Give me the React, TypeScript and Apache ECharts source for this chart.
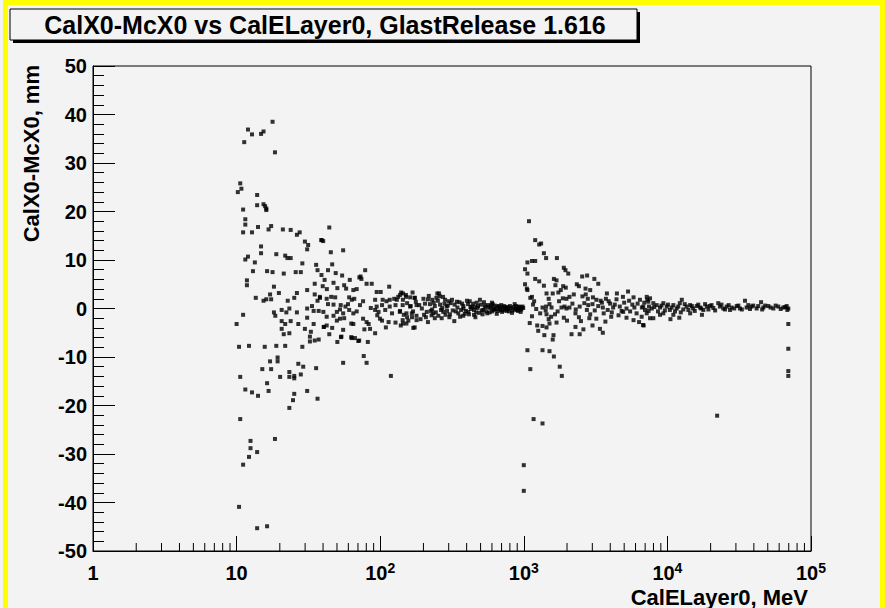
import { useEffect, useRef } from "react";
import * as echarts from "echarts";

const titleText = "CalX0-McX0 vs CalELayer0, GlastRelease 1.616";
const xAxisTitle = "CalELayer0, MeV";
const yAxisTitle = "CalX0-McX0, mm";
const xRange = [1, 100000];
const yRange = [-50, 50];
const yStep = 10;

// [CalELayer0 (MeV), CalX0-McX0 (mm)]
const lowEnergy: number[][] = [
  [17.8,38.5],[12.0,36.9],[12.8,35.9],[14.8,36.0],[15.4,36.5],[11.3,34.3],[18.5,32.2],[10.6,25.8],[10.8,24.7],[10.2,24.0],[13.9,23.4],[13.9,21.3],[15.4,21.5],[15.8,21.1],[16.1,20.6],[11.1,20.4],
  [16.1,20.3],[11.5,18.4],[11.5,17.3],[11.1,15.7],[12.8,15.7],[14.1,16.8],[16.7,16.3],[17.4,17.0],[21.0,16.3],[23.8,16.2],[26.3,15.2],[27.5,15.7],[29.9,13.8],[31.5,13.1],[31.0,12.2],[39.0,14.1],[14.8,12.8],[14.8,11.4],[12.0,10.7],[11.5,10.1],[13.4,9.5],[18.9,11.2],[21.8,10.9],[22.6,10.4],[23.8,10.4],[28.7,9.3],[35.8,9.0],[13.0,7.7],[16.3,7.7],[17.8,7.5],[21.3,7.2],[25.8,7.5],[28.0,7.5],[36.6,7.9],[39.0,6.9],[11.8,5.8],[11.8,4.8],[18.2,4.5],[19.7,3.2],[17.1,2.9],[16.1,1.9],[15.4,1.6],[17.4,1.9],[13.6,2.2],[22.7,1.6],[25.2,2.2],[26.3,3.2],[31.0,3.8],[35.0,5.1],[35.0,2.9],[36.6,1.6],[38.1,2.2],
  [11.1,-1.3],[10.0,-3.2],[18.2,-0.8],[18.6,-1.5],[20.6,-0.3],[22.2,-0.8],[23.3,0.0],[26.3,-0.8],[31.0,0.0],[33.5,0.5],[34.4,-0.5],[37.3,-0.5],[31.0,-1.9],[20.6,-2.6],[21.8,-3.2],[23.8,-2.6],[26.9,-3.2],[34.4,-3.2],[40.5,-3.8],[20.6,-4.2],[29.9,-4.2],[21.3,-5.3],[23.3,-5.1],[32.9,-4.8],[32.4,-5.8],[32.4,-6.8],[35.0,-6.6],[37.3,-6.4],[28.7,-7.9],[10.4,-7.9],[12.2,-7.7],[15.7,-7.9],[18.9,-7.7],[21.8,-7.7],[19.3,-10.1],
  [17.1,-10.9],[19.3,-10.9],[26.9,-11.4],[29.1,-12.0],[35.8,-12.3],[15.1,-12.5],[17.4,-12.5],[10.6,-14.1],[20.1,-14.1],[23.3,-13.1],[23.3,-14.1],[25.2,-13.9],[25.2,-14.4],[28.0,-13.6],[16.3,-15.4],[11.5,-16.7],[12.8,-17.3],[14.1,-18.0],[16.7,-17.0],[25.2,-17.6],[31.0,-17.0],[24.7,-18.9],[36.6,-18.6],[23.3,-20.5],[10.6,-22.8],[18.5,-26.9],[12.5,-27.3],[12.5,-28.8],[13.9,-29.6],[12.2,-30.6],[11.1,-32.2],[10.4,-40.9],[13.9,-45.3],[16.3,-44.9],
];

const midEnergy: number[][] = [
  [44.2,16.7],[39.0,14.1],[40.1,13.9],[45.3,11.6],[55.2,12.0],[46.3,9.1],[43.3,7.9],[49.0,7.3],[54.3,6.8],[78.6,7.9],[73.0,6.6],[74.0,6.1],[71.6,6.4],[61.4,5.9],[41.0,5.9],[47.3,5.3],[80.4,5.1],[87.3,5.1],[115.5,4.5],[39.8,4.6],[42.5,4.0],[50.3,4.2],[56.1,4.8],[57.9,4.1],[65.0,3.8],[68.6,4.0],[94.5,3.4],[100.8,3.4],[143.9,3.1],[137.5,2.8],[151.5,2.4],[161.6,2.3],[173.8,2.2],[38.0,2.4],[42.4,2.0],[45.6,2.4],[48.6,2.3],[60.8,2.3],[63.4,1.8],[66.0,2.0],[76.0,1.5],[92.2,1.8],[104,1.8],[110.6,1.5],[116.5,1.8],[125.2,2.0],[133.5,2.4],[130.6,1.8],
  [43.3,0.9],[47.3,0.8],[53.1,0.7],[57.3,0.4],[59.7,0.9],[72.3,0.7],[86.0,0.1],[94.5,0.4],[103,0.7],[116.5,0.4],[127.8,0.7],[143.4,0.7],[161.6,0.4],[179.2,0.7],[40.2,-0.7],[52.5,-0.2],[49.9,-0.7],[55.2,-1.0],[60.8,-0.3],[65.0,-1.0],[68.6,-0.6],[92.2,-0.3],[97.4,-0.7],[108.4,-0.3],[120.9,-1.0],[137.5,-0.5],[152.3,-1.0],[169.3,-0.6],
  [42.4,-1.7],[47.3,-1.5],[52.5,-2.1],[49.9,-2.5],[56.1,-2.0],[76.0,-2.1],[80.4,-2.8],[95.4,-1.4],[99.6,-2.1],[143.4,-2.4],[152.3,-3.1],[166.6,-1.8],[179.2,-2.4],[40.5,-3.8],[42.4,-3.5],[46.3,-4.0],[62.9,-3.1],[65.0,-3.2],[83.1,-3.2],[85.0,-4.2],[103,-2.5],[114.4,-2.8],[127.8,-2.9],[139.1,-3.5],[173.8,-3.9],
  [44.2,-5.3],[55.2,-4.4],[77.6,-4.3],[92.2,-5.1],[53.7,-5.8],[62.9,-5.9],[66.7,-6.1],[71.4,-6.6],[50.3,-6.9],[82.0,-6.9],[109.5,-3.9],[76.8,-9.8],[55.2,-11.2],[80.4,-11.2],[118.7,-13.9],[63.3,-6.1],[70.4,-6.7],[53.3,-5.9],
];

const hundredsBand: number[][] = [
  [140,3.3],[151,2.8],[168,3.3],[174,2.2],[144,1.8],[154,1.1],[163,0.5],[177,1.4],[187,0.7],[195,0.0],[137,-0.7],[146,-1.3],[154,-1.8],[166,-1.0],[179,-1.5],[191,-2.2],[202,-1.3],[211,-0.7],[144,-3.1],[170,-4.0],[157,-2.5],[215,1.9],[230,1.8],[246,2.2],[257,3.1],[274,2.4],[283,1.8],
  [222,0.9],[240,0.5],[261,0.8],[290,0.4],[310,1.1],[330,0.8],[356,1.3],[379,0.5],[409,0.9],[436,0.4],[470,1.2],[495,1.8],[528,1.3],[563,0.7],[607,0.9],[654,0.4],[697,0.7],[752,0.2],[801,0.5],[864,0.9],[921,0.4],[971,0.2],
  [234,-1.0],[254,-1.5],[275,-0.7],[303,-1.8],[328,-2.6],[350,-1.0],[379,-1.5],[410,-0.7],[450,-1.3],[490,-0.9],[522,-0.3],[557,-1.0],[601,-0.6],[648,-1.1],[705,-0.7],[760,-0.5],[828,-0.9],[893,-0.3],[951,-0.7],
  [230,-0.2],[270,0.1],[320,-0.4],[380,0.0],[450,-0.3],[540,0.2],[640,-0.1],[760,-0.2],[900,0.0],[240,-2.0],[250,3.1],
  [205,1.0],[225,-0.5],[265,-0.3],[295,0.6],[345,0.2],[395,-0.5],[425,0.3],[480,0.5],[510,-0.4],[585,0.1],[620,-0.3],[680,0.0],[730,0.5],[780,-0.1],[850,0.3],[940,-0.2],[990,0.1],[215,-2.8],[260,2.5],[300,1.5],[285,-1.3],[360,-1.7],[420,1.5],[460,-1.8],[600,1.2],
  [200,2.0],[208,-1.8],[218,2.6],[228,-1.4],[236,1.2],[244,-0.8],[252,1.6],[268,-2.0],[280,1.0],[292,-0.5],[306,-1.2],[316,1.8],[336,-0.6],[342,1.4],[366,-0.3],[372,1.0],[388,-1.1],[402,1.6],[415,-1.2],[430,-0.1],[444,1.0],[458,0.3],[466,-0.8],[476,0.1],[502,0.8],[516,-1.2],[534,0.6],[548,-0.6],[570,0.3],[578,-0.8],[592,0.6],[614,0.0],[628,0.6],[660,-0.5],[670,0.5],[690,-0.3],[712,0.3],[722,-0.4],[740,0.0],[770,0.3],[790,-0.6],[812,0.1],[838,-0.4],[870,-0.1],[880,0.5],[910,-0.5],[930,0.3],[960,-0.2],[980,0.4],
];

const thousands: number[][] = [
  [1087,18.0],[1200,14.1],[1280,13.2],[1320,13.4],[1380,11.4],[1430,10.4],[1700,10.4],[1060,9.5],[1140,9.8],[1200,9.8],[1020,8.1],[1060,7.2],[1900,8.4],[1950,7.9],[2040,7.2],[2550,6.6],[2760,6.8],[3100,6.1],[3300,5.1],[1200,6.1],[1280,5.6],[1620,6.1],[1690,5.8],[1660,4.8],[1020,5.0],[1050,4.1],[1060,3.8],[1380,4.7],[1880,4.6],[1960,4.3],[2340,5.0],[2420,4.6],[2690,4.1],[2900,3.8],[3790,3.1],[4450,3.1],[5320,3.5],[1590,3.1],[1740,3.3],[1810,3.8],[2230,2.9],[1110,2.2],[1140,2.4],[1440,3.1],[1490,2.0],[1870,2.1],[1980,2.0],[2080,2.4],[2560,2.5],[2790,2.0],[3030,2.3],[3200,1.8],[3430,1.6],[3730,2.0],[3990,1.0],[4420,1.9],[4900,2.4],[5410,1.6],[5810,2.3],[6440,1.8],[7240,1.8],
  [1160,0.8],[1220,-0.1],[1350,0.2],[1430,0.4],[1510,0.9],[1830,0.2],[1920,0.4],[1980,0.0],[2080,0.2],[2450,0.4],[2640,1.1],[2810,0.7],[3010,0.9],[3550,0.2],[3840,-0.3],[4190,0.2],[4660,0.4],[5190,0.0],[5890,0.2],[6640,0.2],[7440,0.4],
  [1140,-1.6],[1440,-1.2],[1490,-2.2],[1550,-1.7],[1650,-1.2],[1900,-1.9],[2290,-1.0],[2420,-1.8],[2750,-0.3],[2900,-1.2],[3200,-2.1],[3600,-1.0],[4060,-1.7],[4570,-1.4],[4920,-0.7],[5190,-1.9],[5810,-2.4],[6350,-2.8],[6830,-3.5],
  [1240,-3.5],[1350,-3.6],[1440,-3.9],[1510,-3.1],[1690,-2.9],[2290,-3.8],[2600,-4.3],[3010,-3.5],[3390,-4.2],[3550,-5.0],[1260,-4.6],[1390,-5.5],[1610,-5.5],[1590,-6.4],[2150,-5.3],[2450,-5.3],
  [1060,-8.6],[1350,-8.6],[1510,-8.8],[1620,-9.9],[1110,-12.5],[1780,-12.0],[1840,-13.9],[1170,-22.8],[1350,-23.7],[1000,-32.3],[1000,-37.6],
  [1100,-3.0],[1180,1.5],[1300,-1.0],[1420,-0.4],[1560,0.2],[1720,-0.6],[1760,1.5],[2000,-2.5],[2180,1.0],[2300,-0.2],[2500,-2.6],[2700,2.9],[2860,-2.0],[3120,-0.4],[3300,0.5],[3500,1.2],[3700,-2.7],[3900,1.5],[4100,-0.8],[4300,0.8],[4800,-0.5],[5000,1.2],[5500,-0.6],[5700,0.8],[6100,-1.0],[6200,1.0],
];

const tailBand: number[][] = [
  [7180,2.4],[7570,2.1],[7360,1.4],[7980,1.1],[6790,0.4],[6980,-0.3],[7780,0.0],[8420,0.7],[8880,0.2],[9370,1.1],[9890,0.4],[10400,-0.3],[11000,0.7],[11600,0.0],[12200,1.1],[12600,1.8],[12900,-0.2],[13600,0.4],[14400,0.7],[15100,0.0],[16000,0.5],[16900,0.2],[17800,-0.3],[18800,0.4],[19800,0.5],[20900,0.1],[22600,1.1],[23200,0.4],[24500,0.0],[25900,0.4],[28000,0.2],[30400,0.5],[32000,0.0],[34700,1.6],[35600,0.2],[38600,0.4],[41800,0.0],[44900,1.3],[46600,0.2],[50500,0.5],[54700,0.0],[59200,0.4],[64100,0.2],[67700,0.5],[69500,0.0],
  [6620,-1.7],[6770,-3.4],[7570,-2.0],[7980,-2.0],[8880,-1.3],[10500,-2.2],[12100,-1.9],[17400,-1.3],[14400,-1.0],[11000,-1.3],[9370,-1.0],[7180,-1.0],
  [6900,1.2],[7400,-0.5],[8100,0.3],[8600,-0.6],[9100,0.6],[9600,-0.4],[10100,0.8],[10700,0.2],[11300,-0.6],[11900,0.4],[12400,-0.8],[13200,0.9],[14000,-0.3],[14800,0.5],[15500,-0.5],[16400,0.8],[17200,0.0],[18300,0.9],[19300,-0.2],[20300,0.7],[21500,-0.4],[23800,0.8],[25200,-0.2],[26700,0.7],[27300,-0.3],[29200,0.0],[31200,0.6],[33000,-0.2],[36600,0.7],[37600,-0.1],[39600,0.6],[42900,0.5],[45700,-0.2],[48000,0.6],[52300,0.2],[56700,0.6],[61500,-0.1],[66000,0.3],[68400,-0.3],
  [69500,-3.2],[69500,-8.3],[69500,-12.9],[69500,-13.9],[22200,-22.1],
];

const allPoints = [...lowEnergy, ...midEnergy, ...hundredsBand, ...thousands, ...tailBand];

export default function App() {
  const ref = useRef<HTMLDivElement>(null);
  useEffect(() => {
    if (!ref.current) return;
    const chart = echarts.init(ref.current, undefined, { renderer: "svg" });
    const minorTicks: number[][] = [];
    for (let d = 0; d < 5; d++) {
      for (let m = 2; m <= 9; m++) minorTicks.push([m * Math.pow(10, d), yRange[0]]);
    }
    const font = "Liberation Sans";
    chart.setOption({
      animation: false,
      backgroundColor: "#f3f3f3",
      grid: { left: 93, top: 66, width: 718, height: 485, show: true, borderColor: "#000", borderWidth: 1, backgroundColor: "transparent" },
      xAxis: {
        type: "log",
        logBase: 10,
        min: xRange[0],
        max: xRange[1],
        axisLine: { show: true, onZero: false, lineStyle: { color: "#000", width: 1 } },
        axisTick: { show: true, inside: true, length: 15, lineStyle: { color: "#000" } },
        splitLine: { show: false },
        axisLabel: {
          margin: 10,
          color: "#000",
          formatter: (v: number) => {
            const e = Math.round(Math.log10(v));
            if (e === 0) return "{b|1}";
            if (e === 1) return "{b|10}";
            return `{b|10}{s|${e}}`;
          },
          rich: {
            b: { fontFamily: font, fontWeight: "bold", fontSize: 20, color: "#000", verticalAlign: "bottom", lineHeight: 22 },
            s: { fontFamily: font, fontWeight: "bold", fontSize: 14, color: "#000", verticalAlign: "bottom", padding: [0, 0, 8, 0], lineHeight: 14 },
          },
        },
      },
      yAxis: {
        type: "value",
        min: yRange[0],
        max: yRange[1],
        interval: yStep,
        axisLine: { show: true, onZero: false, lineStyle: { color: "#000", width: 1 } },
        axisTick: { show: true, inside: true, length: 22, lineStyle: { color: "#000" } },
        minorTick: { show: true, splitNumber: 5, length: 11, lineStyle: { color: "#000" } },
        splitLine: { show: false },
        axisLabel: { margin: 6, color: "#000", fontFamily: font, fontWeight: "bold", fontSize: 20 },
      },
      graphic: [
        { type: "rect", shape: { x: 3, y: 0, width: 5, height: 608 }, style: { fill: "#ffff00" }, silent: true },
        { type: "rect", shape: { x: 3, y: 0, width: 882, height: 5 }, style: { fill: "#ffff00" }, silent: true },
        { type: "rect", shape: { x: 880, y: 0, width: 5, height: 608 }, style: { fill: "#ffff00" }, silent: true },
        { type: "rect", shape: { x: 13, y: 12, width: 627, height: 31 }, style: { fill: "#000" }, silent: true },
        { type: "rect", shape: { x: 10, y: 9, width: 627, height: 31 }, style: { fill: "#f3f3f3", stroke: "#000", lineWidth: 1 }, silent: true },
        { type: "text", x: 325, y: 25, style: { text: titleText, fill: "#000", font: `bold 25px "${font}"`, textAlign: "center", textVerticalAlign: "middle" }, silent: true },
        { type: "text", x: 808, y: 597, style: { text: xAxisTitle, fill: "#000", font: `bold 22px "${font}"`, textAlign: "right", textVerticalAlign: "middle" }, silent: true },
        { type: "text", x: 31, y: 65, rotation: Math.PI / 2, style: { text: yAxisTitle, fill: "#000", font: `bold 22px "${font}"`, textAlign: "right", textVerticalAlign: "middle" }, silent: true },
      ],
      series: [
        {
          type: "scatter",
          data: allPoints,
          symbol: "rect",
          symbolSize: 4,
          itemStyle: { color: "#000" },
          silent: true,
        },
        {
          type: "custom",
          data: minorTicks,
          silent: true,
          clip: false,
          renderItem: (_p: any, api: any) => {
            const pt = api.coord([api.value(0), api.value(1)]);
            return { type: "line", shape: { x1: pt[0], y1: pt[1], x2: pt[0], y2: pt[1] - 8 }, style: { stroke: "#000", lineWidth: 1 } };
          },
        },
      ],
    });
    return () => chart.dispose();
  }, []);
  return <div ref={ref} style={{ position: "absolute", left: 0, top: 0, width: 885, height: 608 }} />;
}
